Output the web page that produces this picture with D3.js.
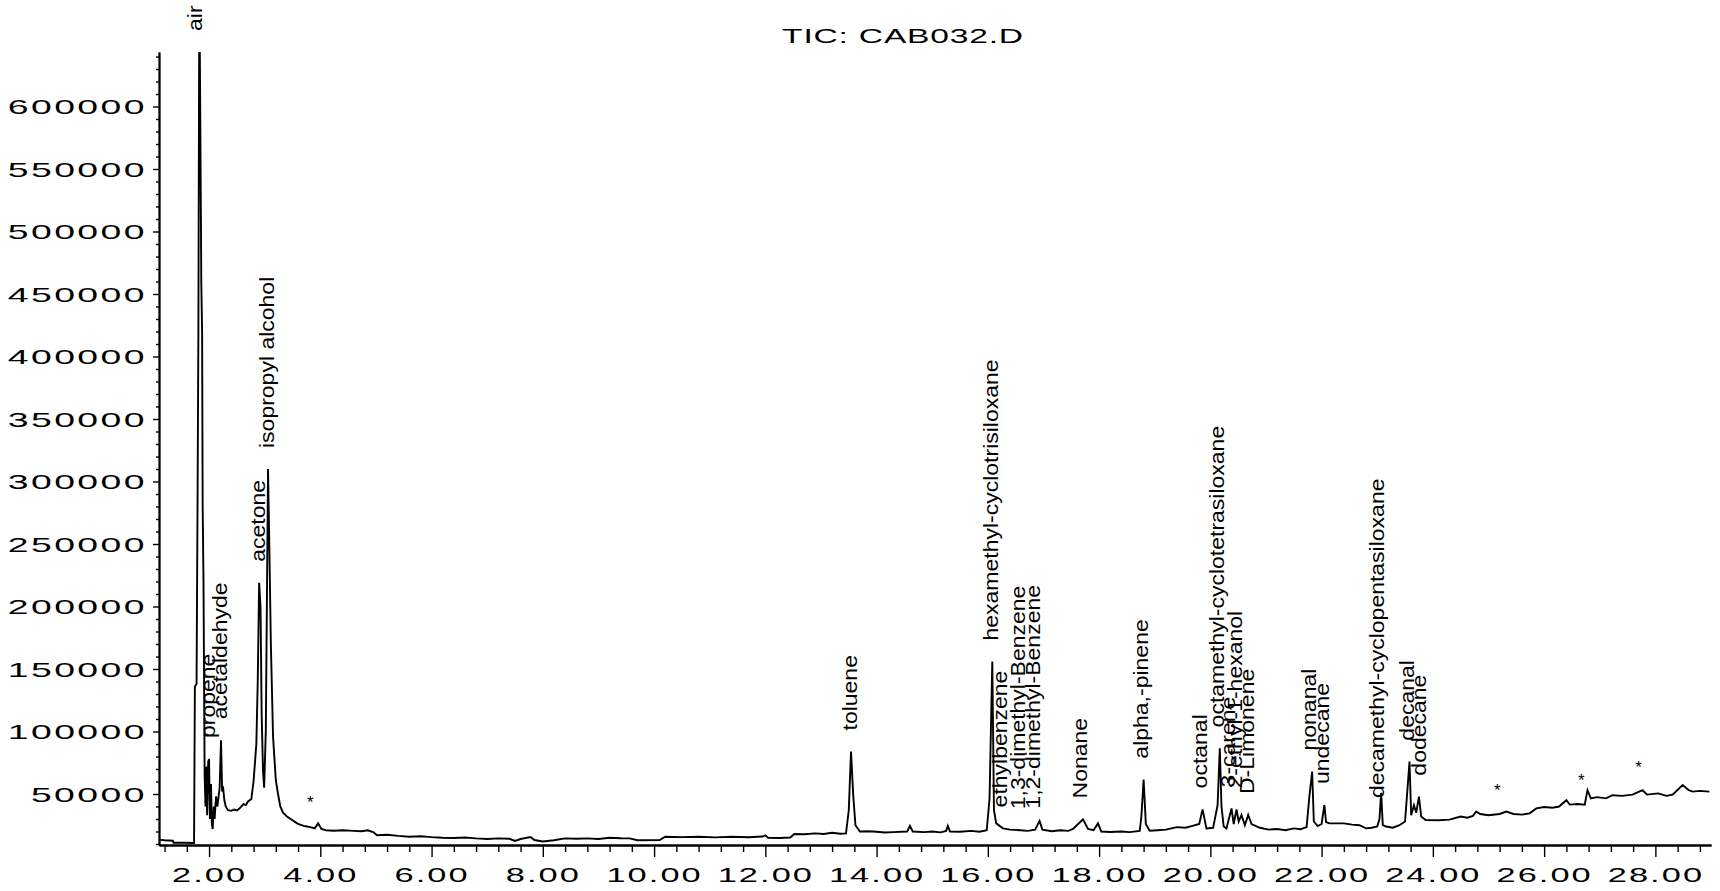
<!DOCTYPE html>
<html>
<head>
<meta charset="utf-8">
<script src="https://cdn.jsdelivr.net/npm/d3@7"></script>
<style>
  html, body { margin: 0; padding: 0; background: #fff; }
  svg { display: block; }
</style>
</head>
<body>
<svg id="chart" width="1720" height="891"></svg>
<script>
// ---- Data ---------------------------------------------------------------
const chartTitle = "TIC: CAB032.D";

// Total ion chromatogram: [retention time (min), abundance]
const tic = [
  [1.10, 13500], [1.20, 13000], [1.35, 12600], [1.36, 11000], [1.55, 11000], [1.73, 10800],
  [1.745, 136000], [1.775, 138000], [1.795, 300000], [1.808, 420000], [1.825, 700000],
  [1.84, 605000], [1.855, 500000], [1.86, 460000], [1.875, 420000], [1.885, 280000],
  [1.90, 220000], [1.92, 67000], [1.935, 40000], [1.955, 72000], [1.965, 33000],
  [1.985, 76000], [2.00, 78000], [2.015, 30000], [2.035, 58000], [2.05, 26000],
  [2.065, 22000], [2.085, 40000], [2.10, 30000], [2.125, 48000], [2.15, 40000],
  [2.19, 55000], [2.215, 93000], [2.235, 52000], [2.255, 54000], [2.275, 45000],
  [2.30, 40000], [2.34, 37000], [2.40, 36500], [2.45, 37500], [2.50, 36800],
  [2.55, 38500], [2.62, 42000], [2.66, 41000], [2.70, 44000], [2.76, 46000],
  [2.80, 60000], [2.85, 90000], [2.875, 140000], [2.90, 219000], [2.925, 200000],
  [2.945, 115000], [2.97, 68000], [2.99, 55000], [3.02, 100000], [3.06, 310000],
  [3.09, 230000], [3.11, 172000], [3.15, 96000], [3.20, 61000], [3.24, 50000],
  [3.28, 40000], [3.33, 35000], [3.40, 32000], [3.45, 30500], [3.50, 29000],
  [3.55, 27500], [3.60, 26000], [3.70, 24500], [3.76, 24000], [3.82, 23500],
  [3.90, 22500], [3.96, 26500], [4.02, 22000], [4.10, 21000], [4.25, 20600],
  [4.40, 21000], [4.60, 20500], [4.75, 20200], [4.85, 21000], [4.95, 19500],
  [5.02, 17000], [5.20, 17400], [5.40, 16500], [5.60, 15800], [5.80, 16200],
  [6.00, 15500], [6.20, 15000], [6.40, 14800], [6.60, 15200], [6.80, 14500],
  [7.00, 14000], [7.20, 14500], [7.40, 14200], [7.50, 12500], [7.60, 14000],
  [7.78, 15500], [7.85, 13200], [8.00, 12000], [8.20, 13000], [8.40, 14500],
  [8.60, 14200], [8.80, 14500], [9.00, 14000], [9.20, 15000], [9.40, 14600],
  [9.56, 14500], [9.70, 13000], [10.10, 13200], [10.20, 15800], [10.50, 15500],
  [10.80, 15800], [11.10, 15300], [11.40, 15800], [11.70, 15400], [11.95, 16000],
  [12.00, 17000], [12.05, 15000], [12.25, 14800], [12.45, 15200], [12.52, 18000],
  [12.70, 17800], [12.90, 18500], [13.05, 18000], [13.20, 19000], [13.35, 18200],
  [13.45, 18500], [13.50, 37000], [13.54, 84000], [13.58, 49000], [13.62, 25000],
  [13.70, 20000], [13.85, 20200], [14.00, 19800], [14.15, 19200], [14.30, 19500],
  [14.55, 20000], [14.60, 24500], [14.65, 20000], [14.85, 19500], [15.00, 20000],
  [15.15, 19300], [15.25, 20500], [15.28, 24500], [15.32, 20000], [15.50, 19800],
  [15.70, 20500], [15.85, 19800], [15.98, 21000], [16.03, 46000], [16.08, 156000],
  [16.11, 37000], [16.15, 26500], [16.27, 22500], [16.40, 21500], [16.58, 21000],
  [16.72, 20500], [16.85, 21500], [16.93, 28500], [16.98, 21500], [17.15, 20200],
  [17.30, 21000], [17.45, 20500], [17.53, 22000], [17.60, 25000], [17.71, 29700],
  [17.80, 22000], [17.90, 21000], [17.98, 26500], [18.04, 20000], [18.20, 19600],
  [18.40, 20000], [18.55, 19500], [18.73, 20500], [18.76, 32000], [18.80, 61500],
  [18.84, 26000], [18.91, 20600], [19.05, 21000], [19.20, 21500], [19.30, 22500],
  [19.40, 23500], [19.55, 23000], [19.68, 24500], [19.80, 26000], [19.86, 37700],
  [19.93, 22500], [20.05, 23000], [20.13, 41000], [20.17, 86500], [20.20, 40000],
  [20.24, 24000], [20.29, 22500], [20.38, 38500], [20.42, 26000], [20.47, 37600],
  [20.51, 28000], [20.56, 33200], [20.62, 25000], [20.68, 33200], [20.74, 26000],
  [20.89, 23000], [21.05, 21500], [21.20, 22000], [21.35, 21000], [21.50, 22500],
  [21.62, 21800], [21.73, 23500], [21.78, 48000], [21.83, 68000], [21.86, 28000],
  [21.93, 24400], [22.00, 26000], [22.05, 41200], [22.08, 27500], [22.14, 26500],
  [22.40, 26500], [22.55, 25500], [22.68, 25000], [22.80, 22500], [22.90, 23000],
  [23.00, 24000], [23.04, 30000], [23.07, 51000], [23.10, 25200], [23.16, 24000],
  [23.28, 23000], [23.40, 25000], [23.50, 28000], [23.58, 75900], [23.61, 33000],
  [23.66, 41000], [23.70, 35000], [23.75, 47900], [23.79, 32000], [23.87, 29200],
  [24.10, 29000], [24.30, 29500], [24.50, 32000], [24.62, 31000], [24.72, 32500],
  [24.78, 36000], [24.85, 34000], [25.00, 33000], [25.20, 34000], [25.32, 36000],
  [25.45, 34000], [25.60, 33500], [25.74, 34500], [25.86, 38500], [26.00, 39600],
  [26.15, 39000], [26.27, 40000], [26.40, 45000], [26.46, 41500], [26.60, 42000],
  [26.73, 41500], [26.78, 53000], [26.84, 46500], [26.95, 47500], [27.11, 46500],
  [27.23, 49000], [27.40, 48500], [27.59, 49500], [27.77, 53000], [27.85, 49500],
  [28.05, 50500], [28.20, 48500], [28.31, 49500], [28.49, 57200], [28.60, 53000],
  [28.67, 51900], [28.80, 52500], [28.97, 51900]
];

// Identified peaks
const peakNames = [
  "air", "propene", "acetaldehyde", "acetone", "isopropyl alcohol", "toluene",
  "hexamethyl-cyclotrisiloxane", "ethylbenzene", "1,3-dimethyl-Benzene",
  "1,2-dimethyl-Benzene", "Nonane", "alpha,-pinene", "octanal",
  "octamethyl-cyclotetrasiloxane", "3-carene", "2-ethyl-1-hexanol", "D-Limonene",
  "nonanal", "undecane", "decamethyl-cyclopentasiloxane", "decanal", "dodecane"
];
const peakTimes = [
  1.78, 2.01, 2.215, 2.90, 3.06, 13.54,
  16.08, 16.25, 16.57,
  16.84, 17.68, 18.78, 19.84,
  20.15, 20.35, 20.46, 20.69,
  21.80, 22.03, 23.02, 23.56, 23.77
];

// Unidentified peaks marked with an asterisk
const markedTimes = [3.82, 25.16, 26.67, 27.70];

// Axis ticks
const xMajorTicks = [2, 4, 6, 8, 10, 12, 14, 16, 18, 20, 22, 24, 26, 28];
const yMajorTicks = [50000, 100000, 150000, 200000, 250000, 300000,
                     350000, 400000, 450000, 500000, 550000, 600000];

// ---- Layout -------------------------------------------------------------
const svg = d3.select("#chart");
const plot = { left: 159, right: 1711, top: 52, bottom: 845 };
const FONT = "'Liberation Sans', Arial, Helvetica, sans-serif";

const x = d3.scaleLinear().domain([1.1, 29.0]).range([plot.left, plot.right]);
const y = d3.scaleLinear().domain([9200, 643600]).range([plot.bottom, plot.top]);

// ---- Axes ---------------------------------------------------------------
const xMinor = d3.range(1.2, 29.0, 0.4).filter(t => Math.abs(t / 2 - Math.round(t / 2)) > 1e-6);
const yMinor = d3.range(10000, 643600, 10000).filter(v => v % 50000 !== 0);

function styleAxis(g) {
  g.selectAll("path.domain").attr("stroke", "#000").attr("stroke-width", 1.8);
  g.selectAll(".tick line").attr("stroke", "#000").attr("stroke-width", 1.4);
}

// minor ticks
svg.append("g")
  .attr("transform", `translate(0,${plot.bottom})`)
  .call(d3.axisBottom(x).tickValues(xMinor).tickSize(7).tickSizeOuter(0).tickFormat(""))
  .call(styleAxis);
svg.append("g")
  .attr("transform", `translate(${plot.left},0)`)
  .call(d3.axisLeft(y).tickValues(yMinor).tickSize(3).tickSizeOuter(0).tickFormat(""))
  .call(styleAxis);

// major ticks with labels
const xAxisG = svg.append("g")
  .attr("transform", `translate(0,${plot.bottom})`)
  .call(d3.axisBottom(x).tickValues(xMajorTicks).tickSize(12).tickSizeOuter(0)
        .tickFormat(d => d.toFixed(2)))
  .call(styleAxis);
xAxisG.selectAll(".tick text")
  .attr("y", null).attr("dy", null)
  .attr("transform", "translate(0,37) scale(1.72,1)")
  .attr("fill", "#000")
  .style("font-family", FONT).style("font-size", "20px").style("letter-spacing", "1.2px")
  .attr("text-anchor", "middle");

const yAxisG = svg.append("g")
  .attr("transform", `translate(${plot.left},0)`)
  .call(d3.axisLeft(y).tickValues(yMajorTicks).tickSize(6).tickSizeOuter(0)
        .tickFormat(d => String(d)))
  .call(styleAxis);
yAxisG.selectAll(".tick text")
  .attr("x", null).attr("dy", "0.36em")
  .attr("transform", "translate(-12,0) scale(1.87,1)")
  .attr("fill", "#000")
  .style("font-family", FONT).style("font-size", "20px").style("letter-spacing", "1.3px")
  .attr("text-anchor", "end");

// ---- Title --------------------------------------------------------------
svg.append("text")
  .attr("transform", "translate(903,43) scale(1.6,1)")
  .attr("text-anchor", "middle")
  .style("font-family", FONT).style("font-size", "21px").style("letter-spacing", "0.5px")
  .attr("fill", "#000")
  .text(chartTitle);

// ---- Chromatogram trace -------------------------------------------------
svg.append("clipPath").attr("id", "plot-clip")
  .append("rect")
  .attr("x", plot.left).attr("y", plot.top)
  .attr("width", plot.right - plot.left).attr("height", plot.bottom - plot.top);

const line = d3.line().x(d => x(d[0])).y(d => y(d[1]));
svg.append("path")
  .datum(tic)
  .attr("clip-path", "url(#plot-clip)")
  .attr("fill", "none")
  .attr("stroke", "#000")
  .attr("stroke-width", 1.9)
  .attr("stroke-linejoin", "miter")
  .attr("d", line);

// ---- Peak annotations ---------------------------------------------------
function apexNear(t, w) {
  let m = 0;
  tic.forEach(([tt, v]) => { if (Math.abs(tt - t) <= w && v > m) m = v; });
  return Math.min(m, y.domain()[1]);
}
const bisect = d3.bisector(d => d[0]).left;
function valueAt(t) {
  const i = Math.max(1, Math.min(tic.length - 1, bisect(tic, t)));
  const a = tic[i - 1], b = tic[i];
  return a[1] + (b[1] - a[1]) * (t - a[0]) / (b[0] - a[0]);
}

const labelGap = 21;
const peaks = peakNames.map((name, i) => ({ name, t: peakTimes[i] }));
svg.append("g").selectAll("text")
  .data(peaks)
  .join("text")
  .attr("transform", d =>
    `translate(${x(d.t)},${y(apexNear(d.t, 0.045)) - labelGap}) rotate(-90) scale(1,0.87)`)
  .attr("dy", "0.28em")
  .attr("text-anchor", "start")
  .style("font-family", FONT).style("font-size", "23px")
  .attr("fill", "#000")
  .text(d => d.name);

svg.append("g").selectAll("text")
  .data(markedTimes)
  .join("text")
  .attr("x", d => x(d))
  .attr("y", d => y(valueAt(d)) - 28)
  .attr("dy", "0.55em")
  .attr("text-anchor", "middle")
  .style("font-family", FONT).style("font-size", "17px")
  .attr("fill", "#000")
  .text("*");
</script>
</body>
</html>
